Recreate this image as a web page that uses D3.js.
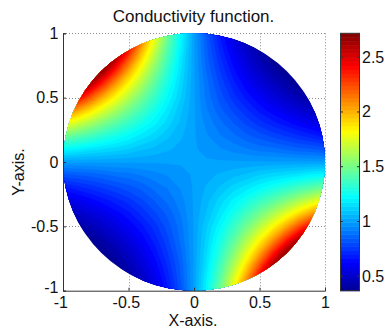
<!DOCTYPE html>
<html><head><meta charset="utf-8">
<script src="https://cdn.jsdelivr.net/npm/d3@7"></script>
<style>
html,body{margin:0;padding:0;background:#fff;}
svg{display:block;font-family:"Liberation Sans",Arial,Helvetica,sans-serif;}
</style></head><body>
<svg id="chart" width="386" height="334"></svg>
<script>
// ---------- data ----------
const title = "Conductivity function.";
const xLabel = "X-axis.";
const yLabel = "Y-axis.";
const gridX = [-1.0,-0.9,-0.8,-0.7,-0.6,-0.5,-0.4,-0.3,-0.2,-0.1,0,0.1,0.2,0.3,0.4,0.5,0.6,0.7,0.8,0.9,1.0];
const gridY = [1.0,0.9,0.8,0.7,0.6,0.5,0.4,0.3,0.2,0.1,0,-0.1,-0.2,-0.3,-0.4,-0.5,-0.6,-0.7,-0.8,-0.9,-1.0];
// conductivity[row = gridY][col = gridX]
const conductivity = [
 [2.72,2.72,2.72,2.72,2.72,2.72,2.23,1.82,1.49,1.22,1.00,0.82,0.67,0.55,0.45,0.37,0.37,0.37,0.37,0.37,0.37],
 [2.72,2.72,2.72,2.72,2.72,2.46,2.05,1.72,1.43,1.20,1.00,0.84,0.70,0.58,0.49,0.41,0.37,0.37,0.37,0.37,0.37],
 [2.72,2.72,2.72,2.72,2.61,2.23,1.90,1.62,1.38,1.17,1.00,0.85,0.73,0.62,0.53,0.45,0.38,0.37,0.37,0.37,0.37],
 [2.72,2.72,2.72,2.66,2.32,2.01,1.75,1.52,1.32,1.15,1.00,0.87,0.76,0.66,0.57,0.50,0.43,0.38,0.37,0.37,0.37],
 [2.72,2.72,2.61,2.32,2.05,1.82,1.62,1.43,1.27,1.13,1.00,0.89,0.79,0.70,0.62,0.55,0.49,0.43,0.38,0.37,0.37],
 [2.72,2.46,2.23,2.01,1.82,1.65,1.49,1.35,1.22,1.11,1.00,0.90,0.82,0.74,0.67,0.61,0.55,0.50,0.45,0.41,0.37],
 [2.23,2.05,1.90,1.75,1.62,1.49,1.38,1.27,1.17,1.08,1.00,0.92,0.85,0.79,0.73,0.67,0.62,0.57,0.53,0.49,0.45],
 [1.82,1.72,1.62,1.52,1.43,1.35,1.27,1.20,1.13,1.06,1.00,0.94,0.89,0.84,0.79,0.74,0.70,0.66,0.62,0.58,0.55],
 [1.49,1.43,1.38,1.32,1.27,1.22,1.17,1.13,1.08,1.04,1.00,0.96,0.92,0.89,0.85,0.82,0.79,0.76,0.73,0.70,0.67],
 [1.22,1.20,1.17,1.15,1.13,1.11,1.08,1.06,1.04,1.02,1.00,0.98,0.96,0.94,0.92,0.90,0.89,0.87,0.85,0.84,0.82],
 [1.00,1.00,1.00,1.00,1.00,1.00,1.00,1.00,1.00,1.00,1.00,1.00,1.00,1.00,1.00,1.00,1.00,1.00,1.00,1.00,1.00],
 [0.82,0.84,0.85,0.87,0.89,0.90,0.92,0.94,0.96,0.98,1.00,1.02,1.04,1.06,1.08,1.11,1.13,1.15,1.17,1.20,1.22],
 [0.67,0.70,0.73,0.76,0.79,0.82,0.85,0.89,0.92,0.96,1.00,1.04,1.08,1.13,1.17,1.22,1.27,1.32,1.38,1.43,1.49],
 [0.55,0.58,0.62,0.66,0.70,0.74,0.79,0.84,0.89,0.94,1.00,1.06,1.13,1.20,1.27,1.35,1.43,1.52,1.62,1.72,1.82],
 [0.45,0.49,0.53,0.57,0.62,0.67,0.73,0.79,0.85,0.92,1.00,1.08,1.17,1.27,1.38,1.49,1.62,1.75,1.90,2.05,2.23],
 [0.37,0.41,0.45,0.50,0.55,0.61,0.67,0.74,0.82,0.90,1.00,1.11,1.22,1.35,1.49,1.65,1.82,2.01,2.23,2.46,2.72],
 [0.37,0.37,0.38,0.43,0.49,0.55,0.62,0.70,0.79,0.89,1.00,1.13,1.27,1.43,1.62,1.82,2.05,2.32,2.61,2.72,2.72],
 [0.37,0.37,0.37,0.38,0.43,0.50,0.57,0.66,0.76,0.87,1.00,1.15,1.32,1.52,1.75,2.01,2.32,2.66,2.72,2.72,2.72],
 [0.37,0.37,0.37,0.37,0.38,0.45,0.53,0.62,0.73,0.85,1.00,1.17,1.38,1.62,1.90,2.23,2.61,2.72,2.72,2.72,2.72],
 [0.37,0.37,0.37,0.37,0.37,0.41,0.49,0.58,0.70,0.84,1.00,1.20,1.43,1.72,2.05,2.46,2.72,2.72,2.72,2.72,2.72],
 [0.37,0.37,0.37,0.37,0.37,0.37,0.45,0.55,0.67,0.82,1.00,1.22,1.49,1.82,2.23,2.72,2.72,2.72,2.72,2.72,2.72]
];
const xTicks = [-1,-0.5,0,0.5,1];
const yTicks = [-1,-0.5,0,0.5,1];
const colorTicks = [0.5,1,1.5,2,2.5];
const colorLimits = [0.368, 2.718];

// ---------- layout ----------
const svg = d3.select("#chart");
const plot = {left:63, right:325, top:33.3, bottom:290.7};
const cbar = {left:340, right:360};
const FS = 16;

const x = d3.scaleLinear().domain([-1,1]).range([plot.left, plot.right]);
const y = d3.scaleLinear().domain([-1,1]).range([plot.bottom, plot.top]);
const span = colorLimits[1]-colorLimits[0];
const jetStops = [0, 0.11, 0.365, 0.62, 0.873, 1];
const jetColors = ["#000090","#0000ff","#00ffff","#ffff00","#ff0000","#800000"];
const color = d3.scaleLinear()
  .domain(jetStops.map(t => colorLimits[0] + t*span))
  .range(jetColors).clamp(true);

// grid (dotted)
const gridG = svg.append("g").attr("stroke","#8c8c8c").attr("stroke-width",1).attr("stroke-dasharray","1,2");
xTicks.filter(d => d !== -1).forEach(d => {
  gridG.append("line").attr("x1",Math.round(x(d))+0.5).attr("x2",Math.round(x(d))+0.5)
    .attr("y1",plot.top).attr("y2",plot.bottom);
});
yTicks.filter(d => d !== -1).forEach(d => {
  gridG.append("line").attr("y1",Math.round(y(d))+0.5).attr("y2",Math.round(y(d))+0.5)
    .attr("x1",plot.left).attr("x2",plot.right);
});

// disk clip
svg.append("defs").append("clipPath").attr("id","disk")
  .append("ellipse")
  .attr("cx", x(0)).attr("cy", y(0))
  .attr("rx", x(1)-x(0)).attr("ry", y(0)-y(1));

// filled contours
const nx = gridX.length, ny = gridY.length;
const values = conductivity.flat();
const nLevels = 60;
const step = span/nLevels;
const thresholds = d3.range(nLevels).map(i => colorLimits[0] + i*step);
const bands = d3.contours().size([nx, ny]).thresholds(thresholds)(values);
const dxg = gridX[1]-gridX[0], dyg = gridY[1]-gridY[0];
const proj = d3.geoTransform({point: function(gx, gy){
  this.stream.point(x(gridX[0] + (gx-0.5)*dxg), y(gridY[0] + (gy-0.5)*dyg));
}});
const path = d3.geoPath(proj);
svg.append("g").attr("clip-path","url(#disk)")
  .selectAll("path").data(bands).join("path")
  .attr("d", path)
  .attr("fill", d => color(d.value + step/2))
  .attr("stroke", d => color(d.value + step/2))
  .attr("stroke-width", 0.3);

// axes
const fmt = d => String(d);
const axG = svg.append("g").attr("font-size", FS);
const xAxis = axG.append("g").attr("transform",`translate(0,${plot.bottom})`)
  .call(d3.axisBottom(x).tickValues(xTicks).tickFormat(fmt).tickSize(-3).tickPadding(6));
const yAxis = axG.append("g").attr("transform",`translate(${plot.left},0)`)
  .call(d3.axisLeft(y).tickValues(yTicks).tickFormat(fmt).tickSize(-3).tickPadding(4.5));
[xAxis, yAxis].forEach(a => {
  a.attr("font-size", FS).attr("font-family", null);
  a.select(".domain").attr("stroke","#333").attr("stroke-width",1);
  a.selectAll(".tick line").attr("stroke","#333");
  a.selectAll("text").attr("fill","#111");
});
// MATLAB centres the numeric part; minus sign hangs left
const probe = svg.append("text").attr("font-size",FS).text("-");
const hyph = probe.node().getComputedTextLength();
probe.remove();
xAxis.selectAll(".tick text").attr("dx", d => d < 0 ? -hyph/2 : 0);
// lowest y label sits slightly higher, clear of the x labels
yAxis.selectAll(".tick text").attr("dy", d => d === yTicks[0] ? "0.1em" : "0.32em");

// labels
svg.append("text").attr("x",193.5).attr("y",22).attr("text-anchor","middle")
  .attr("font-size",17).attr("fill","#111").text(title);
svg.append("text").attr("x",193).attr("y",326).attr("text-anchor","middle")
  .attr("font-size",FS).attr("fill","#111").text(xLabel);
svg.append("text").attr("transform","translate(24,172) rotate(-90)").attr("text-anchor","middle")
  .attr("font-size",FS).attr("fill","#111").text(yLabel);

// colorbar
const cy = d3.scaleLinear().domain(colorLimits).range([plot.bottom, plot.top]);
const nC = 64;
const cb = svg.append("g");
cb.selectAll("rect").data(d3.range(nC)).join("rect")
  .attr("x", cbar.left).attr("width", cbar.right-cbar.left)
  .attr("y", i => cy(colorLimits[0] + (i+1)*span/nC))
  .attr("height", i => cy(colorLimits[0] + i*span/nC) - cy(colorLimits[0] + (i+1)*span/nC) + 0.5)
  .attr("fill", i => color(colorLimits[0] + (i+0.5)*span/nC));
cb.append("rect").attr("x",cbar.left+0.5).attr("y",plot.top).attr("width",cbar.right-cbar.left-1)
  .attr("height",plot.bottom-plot.top).attr("fill","none").attr("stroke","#333");
colorTicks.forEach(v => {
  cb.append("line").attr("x1",cbar.right-3).attr("x2",cbar.right).attr("y1",cy(v)).attr("y2",cy(v)).attr("stroke","#333");
  cb.append("line").attr("x1",cbar.left).attr("x2",cbar.left+3).attr("y1",cy(v)).attr("y2",cy(v)).attr("stroke","#333");
  cb.append("text").attr("x",cbar.right+2).attr("y",cy(v)).attr("dy","0.34em")
    .attr("font-size",FS).attr("fill","#111").text(String(v));
});
</script>
</body></html>
